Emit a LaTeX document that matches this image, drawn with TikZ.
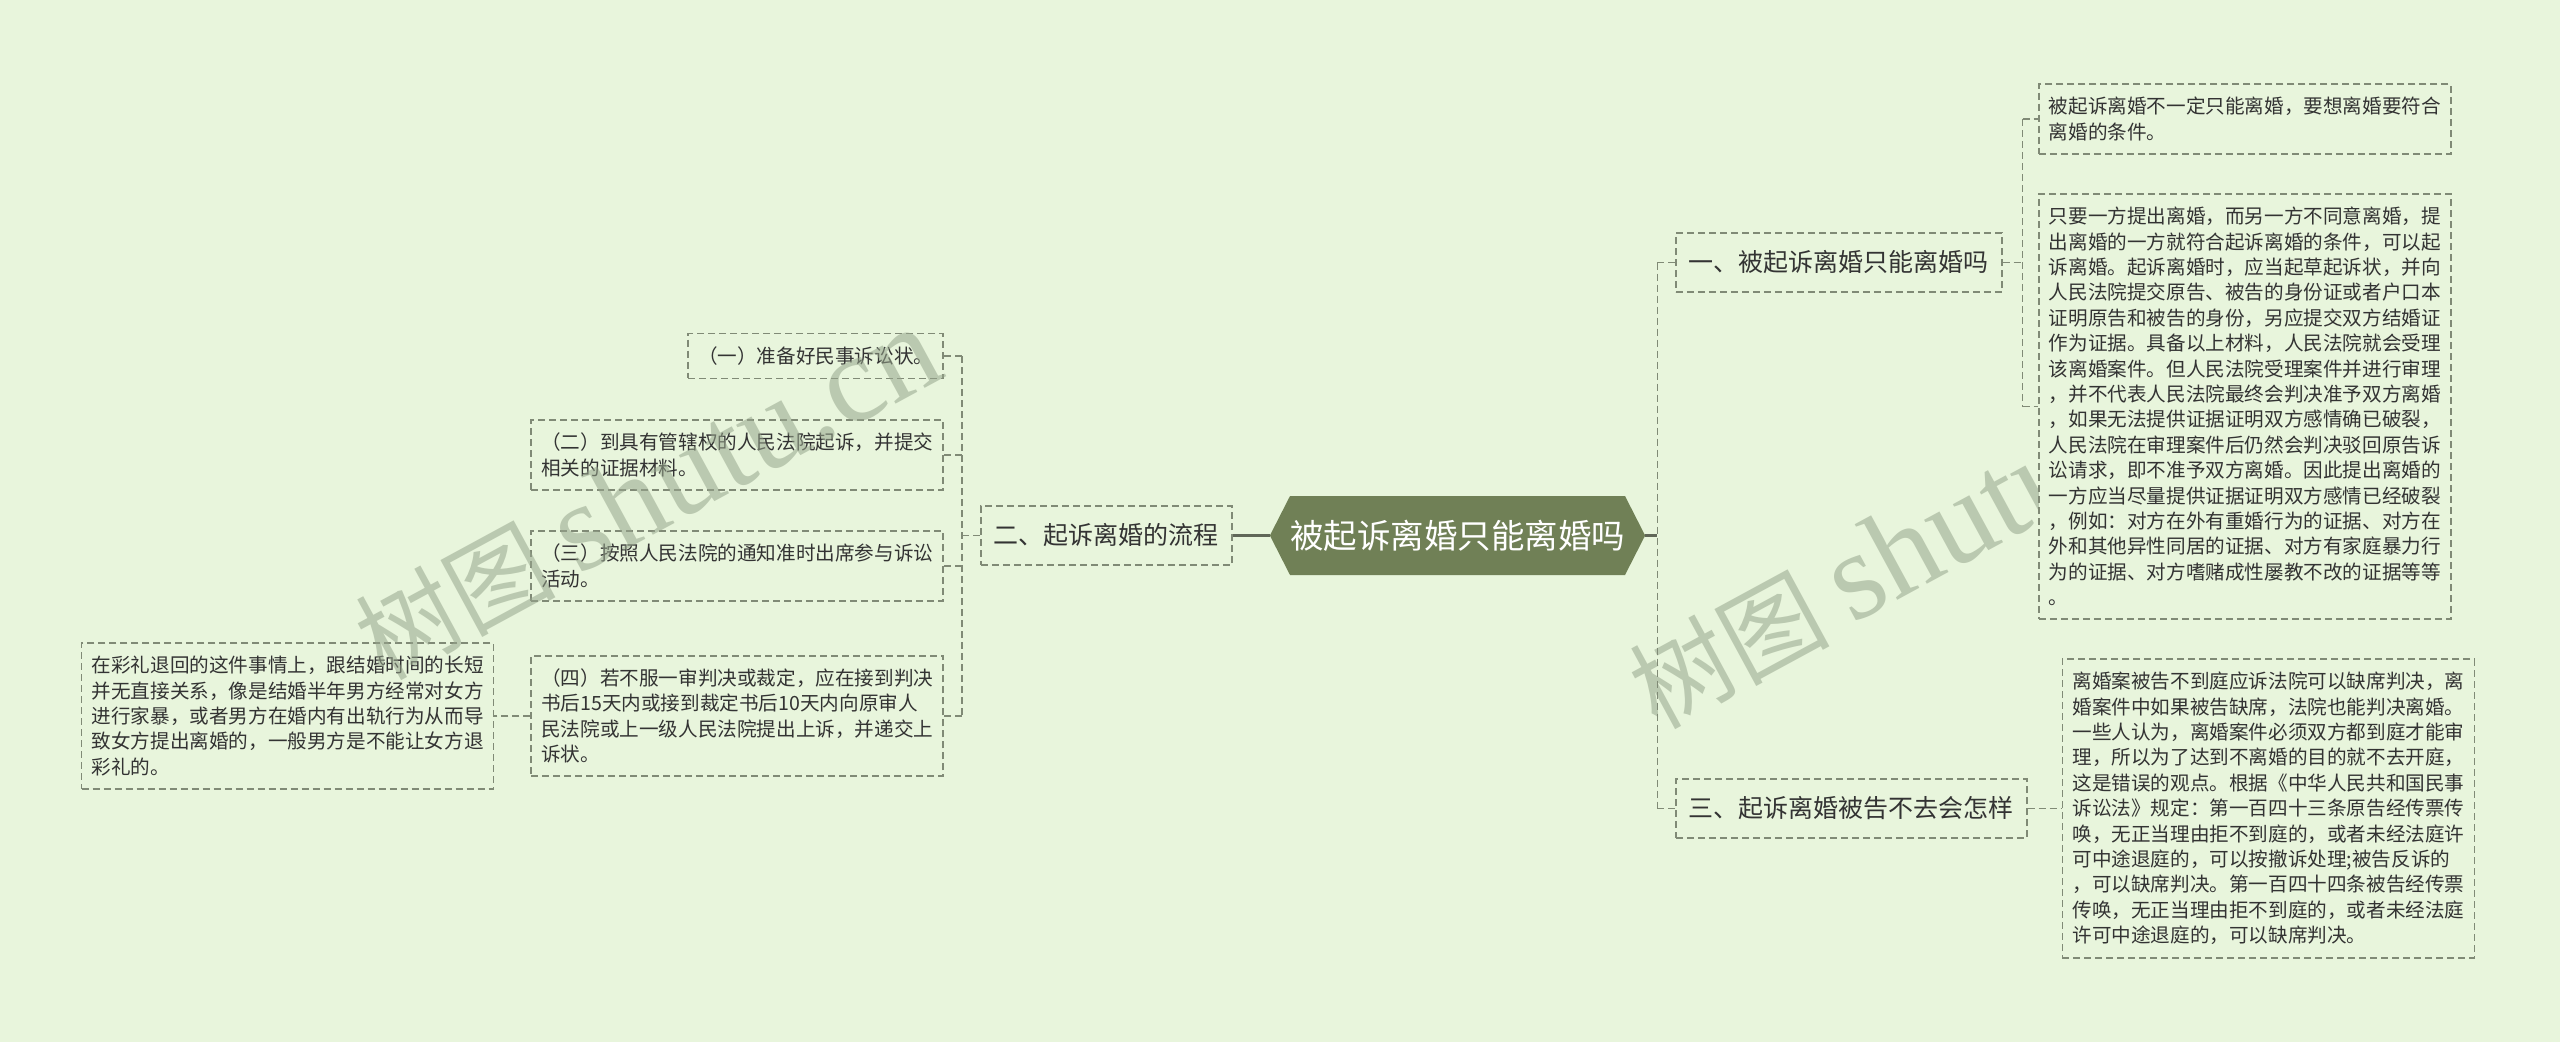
\documentclass[tikz,border=0pt]{standalone}
\usepackage{fontspec}
\setmainfont{Noto Sans CJK SC}
\newfontfamily\wmlatin{Liberation Serif}
\usetikzlibrary{positioning,shapes.symbols,calc}

\definecolor{bgcol}{RGB}{232,245,220}
\definecolor{rootcol}{RGB}{112,128,86}
\definecolor{linecol}{RGB}{128,138,118}
\definecolor{txtcol}{RGB}{51,51,51}
\definecolor{wmcol}{RGB}{150,165,140}

\begin{document}
\begin{tikzpicture}[x=1pt, y=-1pt,
  topic/.style={signal, signal to=west and east, signal pointer angle=126, fill=rootcol, text=white,
    font=\fontsize{33.5}{40}\selectfont, minimum width=375pt, minimum height=79pt, inner sep=0pt},
  branch/.style={draw=linecol, dash pattern=on 7pt off 4pt, line width=1.6pt, text=txtcol,
    font=\fontsize{25}{30}\selectfont, minimum height=59pt, inner xsep=13pt},
  leaf/.style={draw=linecol, dash pattern=on 7pt off 4pt, line width=1.6pt, text=txtcol,
    font=\fontsize{19.6}{25.4}\selectfont, align=left, inner xsep=10pt, inner ysep=13pt},
  link/.style={draw=linecol, dash pattern=on 7pt off 4pt, line width=1.6pt},
  mainlink/.style={draw=linecol!75!black, line width=2.4pt},
  wmtext/.style={text=wmcol, text opacity=0.55, rotate=28.5, inner sep=0pt}
]
\fill[bgcol] (0,0) rectangle (2560,1042);
\useasboundingbox (0,0) rectangle (2560,1042);

% watermark behind the right side
\node[wmtext] (wm2) at (1921,543) {\fontsize{100}{100}\selectfont 树图 {\wmlatin\fontsize{125}{125}\selectfont shutu.cn}};

% centre and branches
\node[topic] (root) at (1457.5,535.5) {被起诉离婚只能离婚吗};
\node[branch, left=37pt of root] (b2) {二、起诉离婚的流程};
\node[branch, anchor=west] (b1) at (1675,262.5) {一、被起诉离婚只能离婚吗};
\node[branch, anchor=west] (b3) at (1675,808.5) {三、起诉离婚被告不去会怎样};

% left leaves
\node[leaf, anchor=east] (c1) at (944,356) {（一）准备好民事诉讼状。};
\node[leaf, anchor=east] (c2) at (944,455) {（二）到具有管辖权的人民法院起诉，并提交\\相关的证据材料。};
\node[leaf, anchor=east] (c3) at (944,566) {（三）按照人民法院的通知准时出席参与诉讼\\活动。};
\node[leaf, anchor=east] (c4) at (944,716) {（四）若不服一审判决或裁定，应在接到判决\\书后15天内或接到裁定书后10天内向原审人\\民法院或上一级人民法院提出上诉，并递交上\\诉状。};
\node[leaf, left=36pt of c4] (d1) {在彩礼退回的这件事情上，跟结婚时间的长短\\并无直接关系，像是结婚半年男方经常对女方\\进行家暴，或者男方在婚内有出轨行为从而导\\致女方提出离婚的，一般男方是不能让女方退\\彩礼的。};

% right leaves
\node[leaf, anchor=west] (a1) at (2038,119) {被起诉离婚不一定只能离婚，要想离婚要符合\\离婚的条件。};
\node[leaf, fill=bgcol, anchor=west] (a2) at (2038,406.5) {只要一方提出离婚，而另一方不同意离婚，提\\出离婚的一方就符合起诉离婚的条件，可以起\\诉离婚。起诉离婚时，应当起草起诉状，并向\\人民法院提交原告、被告的身份证或者户口本\\证明原告和被告的身份，另应提交双方结婚证\\作为证据。具备以上材料，人民法院就会受理\\该离婚案件。但人民法院受理案件并进行审理\\，并不代表人民法院最终会判决准予双方离婚\\，如果无法提供证据证明双方感情确已破裂，\\人民法院在审理案件后仍然会判决驳回原告诉\\讼请求，即不准予双方离婚。因此提出离婚的\\一方应当尽量提供证据证明双方感情已经破裂\\，例如：对方在外有重婚行为的证据、对方在\\外和其他异性同居的证据、对方有家庭暴力行\\为的证据、对方嗜赌成性屡教不改的证据等等\\。};
\node[leaf, right=34pt of b3] (e1) {离婚案被告不到庭应诉法院可以缺席判决，离\\婚案件中如果被告缺席，法院也能判决离婚。\\一些人认为，离婚案件必须双方都到庭才能审\\理，所以为了达到不离婚的目的就不去开庭，\\这是错误的观点。根据《中华人民共和国民事\\诉讼法》规定：第一百四十三条原告经传票传\\唤，无正当理由拒不到庭的，或者未经法庭许\\可中途退庭的，可以按撤诉处理;被告反诉的\\，可以缺席判决。第一百四十四条被告经传票\\传唤，无正当理由拒不到庭的，或者未经法庭\\许可中途退庭的，可以缺席判决。};

% connectors
\draw[mainlink] (root.west) -- (b2.east);
\draw[mainlink] (root.east) -- ++(12,0) coordinate (tr);
\draw[link] (tr |- b1.west) -- (tr |- b3.west);
\foreach \n in {b1,b3}
  \draw[link] (tr |- \n.west) -- (\n.west);

\draw[link] (b2.west) -- ++(-18,0) coordinate (tl);
\draw[link] (tl |- c1.east) -- (tl |- c4.east);
\foreach \n in {c1,c2,c3,c4}
  \draw[link] (\n.east) -- (tl |- \n.east);
\draw[link] (c4.west) -- (d1.east);

\draw[link] (b1.east) -- ++(20,0) coordinate (tb);
\draw[link] (tb |- a1.west) -- (tb |- a2.west);
\foreach \n in {a1,a2}
  \draw[link] (tb |- \n.west) -- (\n.west);
\draw[link] (b3.east) -- (e1.west);

% watermark over the left side
\node[wmtext] (wm1) at (647,494) {\fontsize{100}{100}\selectfont 树图 {\wmlatin\fontsize{125}{125}\selectfont shutu.cn}};
\end{tikzpicture}
\end{document}
